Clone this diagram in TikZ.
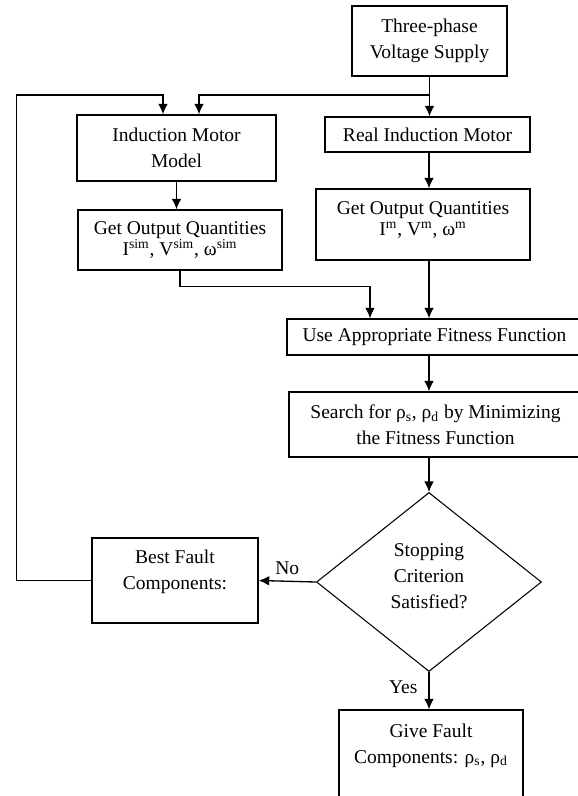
\documentclass[tikz,border=0pt]{standalone}
\usepackage{fontspec}
\setmainfont{Liberation Serif}
\usetikzlibrary{shapes,arrows,arrows.meta,positioning}

\begin{document}
\begin{tikzpicture}[>={Latex[length=6pt,width=5.5pt]},
    font=\fontsize{11.1}{14.8}\selectfont,
    box/.style={rectangle, draw, line width=0.75pt, align=center, inner sep=2pt},
    dec/.style={diamond, draw, line width=0.6pt, aspect=1.25, align=center, inner sep=0pt},
    ar/.style={line width=0.75pt,->}]
    \useasboundingbox (0,0) rectangle (11.56,-15.92);
    \node [box, minimum width=3.1cm, minimum height=1.4cm] (supply) at (8.59,-0.82) {Three-phase\\Voltage Supply};
    \node [box, minimum width=3.98cm, minimum height=1.32cm] (model) at (3.53,-2.96) {Induction Motor\\Model};
    \node [box, minimum width=4.1cm, minimum height=0.7cm] (real) at (8.55,-2.69) {Real Induction Motor};
    \node [box, minimum width=4.08cm, minimum height=1.2cm] (outsim) at (3.6,-4.8) {Get Output Quantities\\[-2.8pt] I\textsuperscript{sim}, V\textsuperscript{sim}, ω\textsuperscript{sim}};
    \node [box, minimum width=4.28cm, minimum height=1.42cm] (outm) at (8.46,-4.49) {Get Output Quantities\\[-2.8pt] I\textsuperscript{m}, V\textsuperscript{m}, ω\textsuperscript{m}\\[-8.5pt]\mbox{}};
    \node [box, minimum width=5.9cm, minimum height=0.72cm] (fit) at (8.69,-6.74) {Use Appropriate Fitness Function};
    \node [box, minimum width=5.86cm, minimum height=1.3cm] (search) at (8.71,-8.49) {Search for ρ\textsubscript{s}, ρ\textsubscript{d} by Minimizing\\the Fitness Function};
    \node [dec, minimum width=4.5cm, minimum height=3.58cm] (crit) at (8.58,-11.64) {Stopping\\Criterion\\Satisfied?\\[-8pt]\mbox{}};
    \node [box, minimum width=3.32cm, minimum height=1.7cm] (best) at (3.5,-11.61) {Best Fault\\Components:\\[-3pt]\mbox{}};
    \node [box, minimum width=3.68cm, minimum height=1.92cm] (give) at (8.62,-15.16) {Give Fault\\Components: ρ\textsubscript{s}, ρ\textsubscript{d}\\[2pt]\mbox{}};
    \coordinate (split) at (8.58,-1.9);
    \coordinate (supin) at ([xshift=0.45cm]model.north);
    \coordinate (fbin) at ([xshift=-0.27cm]model.north);
    \draw [ar] (supply.south) -- (supply.south |- real.north);
    \draw [ar] (split) -| (supin);
    \draw [ar] (model.south) -- (model.south |- outsim.north);
    \draw [ar] (real.south -| split) -- (outm.north -| split);
    \draw [ar] (outsim.south) -- ++(0,-0.32) -| ([xshift=-1.29cm]fit.north);
    \draw [ar] (outm.south -| split) -- (fit.north -| split);
    \draw [ar] (fit.south -| split) -- (search.north -| split);
    \draw [ar] (search.south -| split) -- (crit.north);
    \draw [ar] (crit.west) -- node[above]{No} (best.east);
    \draw [ar] (crit.south) -- node[left, pos=0.4, xshift=-1mm]{Yes} (give.north -| crit.south);
    \draw [ar] (best.west) -- ++(-1.5,0) |- (fbin |- split) -- (fbin);
\end{tikzpicture}
\end{document}
